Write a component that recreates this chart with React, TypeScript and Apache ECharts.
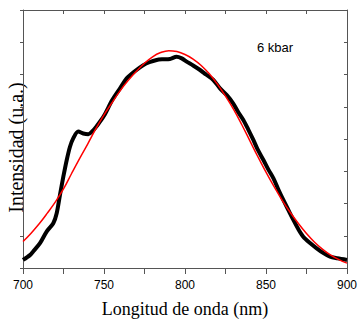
import React, { useEffect, useRef } from "react";
import * as echarts from "echarts";

const measuredX = [700, 704.3, 706.4, 710.5, 714.6, 718.7, 720.8, 722.8, 724.9, 727, 729, 731, 734.1, 737.2, 740.3, 743, 745.5, 750, 755, 760, 764, 769, 774.3, 778, 782.5, 786, 790.7, 794.8, 798, 801, 805, 809.3, 813, 817.5, 821.6, 825.8, 829.8, 833, 836, 839, 842.2, 845, 848.4, 851.5, 854.6, 857.5, 860.7, 864, 866.9, 870, 873, 877, 881.3, 885.5, 889.5, 894, 900];
const measuredY = [0.25, 0.4, 0.52, 0.77, 1.13, 1.39, 1.7, 2.26, 2.83, 3.35, 3.76, 4.02, 4.23, 4.17, 4.15, 4.25, 4.4, 4.72, 5.2, 5.58, 5.88, 6.1, 6.29, 6.38, 6.45, 6.47, 6.48, 6.55, 6.5, 6.4, 6.28, 6.14, 6.0, 5.83, 5.57, 5.36, 5.1, 4.82, 4.59, 4.3, 3.97, 3.66, 3.35, 3.05, 2.78, 2.45, 2.11, 1.78, 1.49, 1.2, 0.97, 0.78, 0.61, 0.46, 0.35, 0.3, 0.25];

const fitX = [700, 705, 710, 715, 720, 725, 730, 735, 740, 745, 750, 755, 760, 765, 770, 775, 780, 785, 790, 795, 800, 805, 810, 815, 820, 825, 830, 835, 840, 845, 850, 855, 860, 865, 870, 875, 880, 885, 890, 895, 900];
const fitY = [0.82, 1.08, 1.37, 1.7, 2.05, 2.45, 2.93, 3.4, 3.85, 4.32, 4.75, 5.13, 5.5, 5.82, 6.1, 6.35, 6.55, 6.68, 6.74, 6.71, 6.62, 6.48, 6.28, 6.02, 5.7, 5.33, 4.92, 4.45, 3.95, 3.45, 2.97, 2.52, 2.1, 1.72, 1.38, 1.07, 0.8, 0.58, 0.4, 0.26, 0.15];

const xTickLabels = [700, 750, 800, 850, 900];
const xTitle = "Longitud de onda (nm)";
const yTitle = "Intensidad (u.a.)";
const annotation = "6 kbar";

const SANS = "'Liberation Sans', Arial, sans-serif";
const SERIF = "'Liberation Serif', 'Times New Roman', serif";
const AXIS_COLOR = "#555";

export default function App() {
  const ref = useRef<HTMLDivElement>(null);
  useEffect(() => {
    if (!ref.current) return;
    const chart = echarts.init(ref.current, null, { renderer: "svg" });
    const lineStyle = { color: AXIS_COLOR, width: 1 };
    chart.setOption({
      animation: false,
      backgroundColor: "#fff",
      grid: { left: 23, right: 13, top: 10, bottom: 52, containLabel: false },
      xAxis: [
        {
          type: "value",
          min: 700,
          max: 900,
          interval: 25,
          position: "bottom",
          axisLine: { show: true, onZero: false, lineStyle },
          axisTick: { show: true, inside: false, length: 6, lineStyle },
          splitLine: { show: false },
          axisLabel: {
            margin: 11,
            fontFamily: SANS,
            fontSize: 12,
            color: "#000",
            formatter: (v: number) => (xTickLabels.includes(v) ? String(v) : ""),
          },
        },
        {
          type: "value",
          min: 700,
          max: 900,
          interval: 25,
          position: "top",
          axisLine: { show: true, onZero: false, lineStyle },
          axisTick: { show: true, inside: true, length: 4, lineStyle },
          splitLine: { show: false },
          axisLabel: { show: false },
        },
      ],
      yAxis: [
        {
          type: "value",
          min: 0,
          max: 8,
          interval: 1,
          position: "left",
          axisLine: { show: true, onZero: false, lineStyle },
          axisTick: { show: true, inside: false, length: 3, lineStyle },
          splitLine: { show: false },
          axisLabel: { show: false },
        },
        {
          type: "value",
          min: 0,
          max: 8,
          interval: 1,
          position: "right",
          axisLine: { show: true, onZero: false, lineStyle },
          axisTick: { show: true, inside: true, length: 3, lineStyle },
          splitLine: { show: false },
          axisLabel: { show: false },
        },
      ],
      graphic: [
        {
          type: "text",
          x: 185,
          y: 309,
          style: { text: xTitle, font: `18px ${SERIF}`, fill: "#000", align: "center", verticalAlign: "middle" },
        },
        {
          type: "text",
          x: 15.5,
          y: 147.5,
          rotation: Math.PI / 2,
          style: { text: yTitle, font: `20px ${SERIF}`, fill: "#000", align: "center", verticalAlign: "middle" },
        },
        {
          type: "text",
          x: 257,
          y: 47,
          style: { text: annotation, font: `13px ${SANS}`, fill: "#000", align: "left", verticalAlign: "middle" },
        },
      ],
      series: [
        {
          type: "line",
          xAxisIndex: 0,
          yAxisIndex: 0,
          data: measuredX.map((x, i) => [x, measuredY[i]]),
          showSymbol: false,
          smooth: 0.3,
          lineStyle: { color: "#000", width: 4 },
          z: 2,
        },
        {
          type: "line",
          xAxisIndex: 0,
          yAxisIndex: 0,
          data: fitX.map((x, i) => [x, fitY[i]]),
          showSymbol: false,
          smooth: 0.4,
          lineStyle: { color: "#ff0000", width: 1.5 },
          z: 3,
        },
      ],
    });
    return () => chart.dispose();
  }, []);
  return <div ref={ref} style={{ width: 360, height: 320, position: "absolute", left: 0, top: 0 }} />;
}
